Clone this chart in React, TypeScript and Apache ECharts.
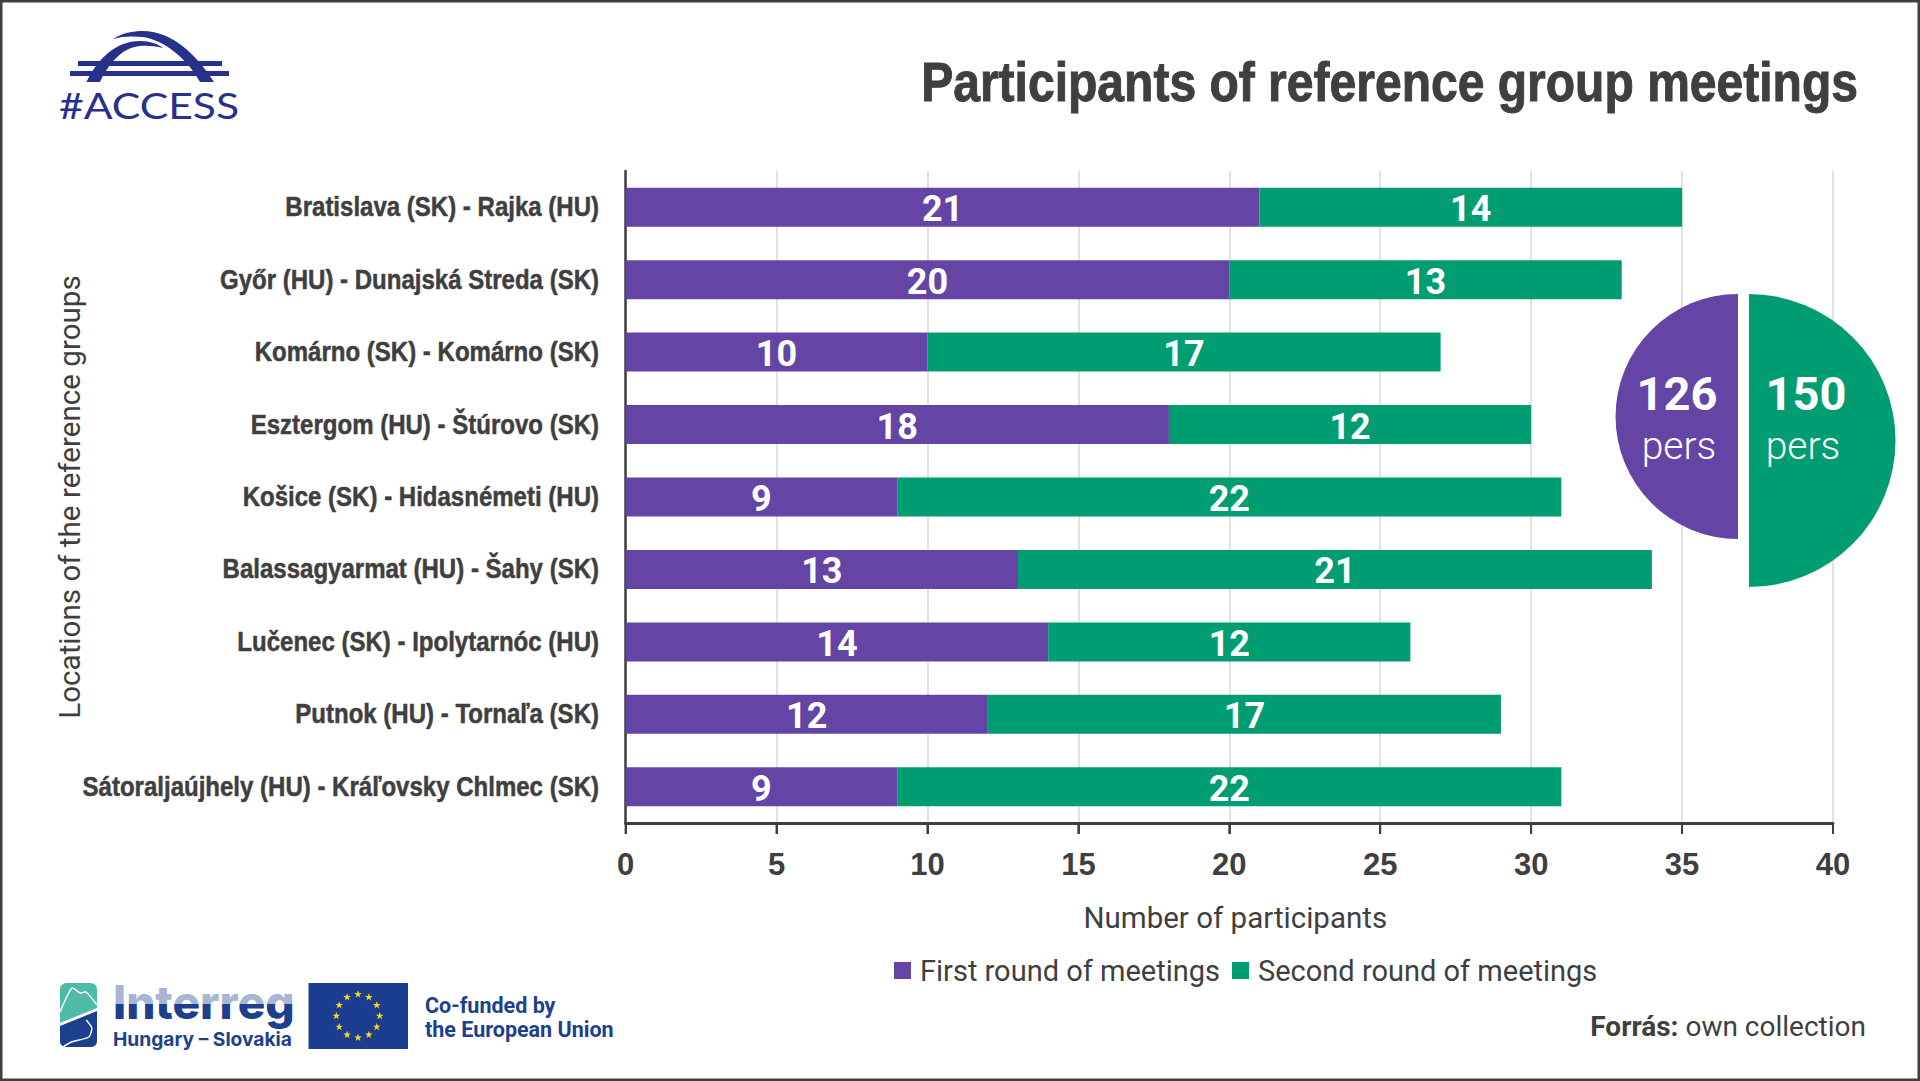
import React, { useEffect, useRef } from "react";
import * as echarts from "echarts";

const categories = [
  "Bratislava (SK) - Rajka (HU)",
  "Győr (HU) - Dunajská Streda (SK)",
  "Komárno (SK) - Komárno (SK)",
  "Esztergom (HU) - Štúrovo (SK)",
  "Košice (SK) - Hidasnémeti (HU)",
  "Balassagyarmat (HU) - Šahy (SK)",
  "Lučenec (SK) - Ipolytarnóc (HU)",
  "Putnok (HU) - Tornaľa (SK)",
  "Sátoraljaújhely (HU) - Kráľovsky Chlmec (SK)",
];
const firstRound = [21, 20, 10, 18, 9, 13, 14, 12, 9];
const secondRound = [14, 13, 17, 12, 22, 21, 12, 17, 22];
const firstTotal = 126;
const secondTotal = 150;
const xTicks = [0, 5, 10, 15, 20, 25, 30, 35, 40];

const PURPLE = "#6444A5";
const GREEN = "#009D73";
const DARK = "#3F3F3F";
const NAVY = "#27318B";
const BLUE = "#1C3F8E";
const ARIAL = '"Liberation Sans", sans-serif';
const ROBOTO = "Roboto, sans-serif";

echarts.graphic.registerShape("archA", echarts.graphic.extendPath(
  "M86.5 82C97 60 115 41 140 41C150 41 158 44 163 48C155 46 148 45.5 140 46C122 47 108 65 100 82Z" as any, {}) as any);
echarts.graphic.registerShape("archB", echarts.graphic.extendPath(
  "M113 39C122 33 133 31 143 31C170 31 195 52 214 82L200 82C188 60 165 40 143 37C132 36 122 36 113 39Z" as any, {}) as any);
echarts.graphic.registerShape("peakTop", echarts.graphic.extendPath(
  "M60 1023L60 990C60 985 63 983 67 983L90 983C95 983 97 986 97 990L97 1008Z" as any, {}) as any);
echarts.graphic.registerShape("peakBottom", echarts.graphic.extendPath(
  "M60 1026L97 1011L97 1041C97 1045 94 1047 90 1047L67 1047C63 1047 60 1045 60 1041Z" as any, {}) as any);
echarts.graphic.registerShape("star", echarts.graphic.extendPath(
  "M0 -4L1 -1.2L3.9 -1.2L1.5 0.5L2.4 3.3L0 1.6L-2.4 3.3L-1.5 0.5L-3.9 -1.2L-1 -1.2Z" as any, {}) as any);

const starAngles = [0, 30, 60, 90, 120, 150, 180, 210, 240, 270, 300, 330];

function App() {
  const ref = useRef<HTMLDivElement>(null);
  useEffect(() => {
    const chart = echarts.init(ref.current!, null, { renderer: "svg" });
    const band = (d: number[]) => ({ type: "rect", shape: { x: d[0], y: d[1], width: d[2], height: d[3] }, style: { fill: NAVY } });
    const line = (pts: number[][]) => ({ type: "polyline", shape: { points: pts, smooth: 0.2 }, style: { stroke: "#fff", lineWidth: 1.4, fill: "none" } });
    chart.setOption({
      animation: false,
      backgroundColor: "#fff",
      grid: { left: 625.6, right: 87, top: 171, bottom: 258, outerBoundsMode: "none" },
      legend: {
        left: 894, top: 956, padding: 0, itemWidth: 17, itemHeight: 17, itemGap: 12, icon: "rect",
        data: ["First round of meetings", "Second round of meetings"],
        textStyle: { fontFamily: ROBOTO, fontSize: 29, color: DARK, padding: [0, 0, 0, 4] },
      },
      xAxis: {
        type: "value", min: 0, max: 40, interval: 5,
        name: "Number of participants", nameLocation: "middle", nameGap: 80,
        nameTextStyle: { fontFamily: ROBOTO, fontSize: 29.5, color: DARK, padding: [0, 0, 0, 12] },
        axisLine: { show: true, onZero: false, lineStyle: { color: DARK, width: 3 } },
        axisTick: { show: true, length: 11, lineStyle: { color: DARK, width: 2 } },
        axisLabel: { fontFamily: ARIAL, fontWeight: "bold", fontSize: 31, color: DARK, margin: 26 },
        splitLine: { show: true, lineStyle: { color: "#D9D9D9", width: 1.5 } },
      },
      yAxis: {
        type: "category", inverse: true, data: categories,
        name: "Locations of the reference groups", nameLocation: "middle", nameGap: 541, nameRotate: 90,
        nameTextStyle: { fontFamily: ROBOTO, fontSize: 29.6, color: DARK },
        axisLine: { show: true, lineStyle: { color: DARK, width: 2.5 } },
        axisTick: { show: false },
        axisLabel: { show: false },
      },
      series: [
        {
          name: "First round of meetings", type: "bar", stack: "total", data: firstRound, barWidth: 39,
          itemStyle: { color: PURPLE },
          label: { show: true, position: "inside", color: "#fff", fontFamily: ROBOTO, fontWeight: "bold", fontSize: 36, offset: [0, 2] },
        },
        {
          name: "Second round of meetings", type: "bar", stack: "total", data: secondRound, barWidth: 39,
          itemStyle: { color: GREEN },
          label: { show: true, position: "inside", color: "#fff", fontFamily: ROBOTO, fontWeight: "bold", fontSize: 36, offset: [0, 2] },
        },
        {
          type: "custom", silent: true, data: categories.map((_, i) => i), clip: false,
          renderItem: (params: any, api: any) => {
            const i = api.value(0);
            const p = api.coord([0, i]);
            return {
              type: "text", x: p[0] - 26.6, y: p[1] - 0.5, scaleX: 0.89,
              style: { text: categories[i], fontFamily: ARIAL, fontWeight: "bold", fontSize: 27, fill: DARK, stroke: DARK, lineWidth: 0.5, align: "right", verticalAlign: "middle" },
            };
          },
          encode: { y: 0 },
        },
        {
          type: "custom", silent: true, clip: false, z: 5,
          data: xTicks.map((v) => [v, 8]),
          encode: { x: 0, y: 1 },
          renderItem: (params: any, api: any) => {
            const x = api.coord([api.value(0), 8])[0];
            const b = params.coordSys.y + params.coordSys.height;
            return { type: "rect", shape: { x: x - 1, y: b, width: 2, height: 11 }, style: { fill: DARK } };
          },
        },
        {
          type: "pie", center: [1738, 416.5], radius: [0, 122.5], startAngle: 90, endAngle: 270, clockwise: false,
          label: { show: false }, emphasis: { disabled: true }, silent: true,
          data: [{ value: firstTotal, itemStyle: { color: PURPLE } }],
        },
        {
          type: "pie", center: [1749, 440.5], radius: [0, 146.5], startAngle: 90, endAngle: -90, clockwise: true,
          label: { show: false }, emphasis: { disabled: true }, silent: true,
          data: [{ value: secondTotal, itemStyle: { color: GREEN } }],
        },
      ],
      graphic: [
        { type: "rect", z: 100, shape: { x: 1.25, y: 1.25, width: 1917.5, height: 1078.5 }, style: { fill: "none", stroke: DARK, lineWidth: 2.5 } },
        { type: "text", x: 1858, y: 82, scaleX: 0.858, style: { text: "Participants of reference group meetings", fontFamily: ARIAL, fontWeight: "bold", fontSize: 56, fill: DARK, stroke: DARK, lineWidth: 1, align: "right", verticalAlign: "middle" } },
        { type: "text", x: 1677, y: 393, z: 100, style: { text: String(firstTotal), fontFamily: ROBOTO, fontWeight: "bold", fontSize: 47, fill: "#fff", align: "center", verticalAlign: "middle" } },
        { type: "text", x: 1679, y: 446, z: 100, style: { text: "pers", fontFamily: ROBOTO, fontWeight: 300, fontSize: 39, fill: "#fff", align: "center", verticalAlign: "middle" } },
        { type: "text", x: 1806, y: 393, z: 100, style: { text: String(secondTotal), fontFamily: ROBOTO, fontWeight: "bold", fontSize: 47, fill: "#fff", align: "center", verticalAlign: "middle" } },
        { type: "text", x: 1803, y: 446, z: 100, style: { text: "pers", fontFamily: ROBOTO, fontWeight: 300, fontSize: 39, fill: "#fff", align: "center", verticalAlign: "middle" } },
        { type: "text", x: 1866, y: 1026, style: { rich: { b: { fontFamily: ROBOTO, fontWeight: "bold", fontSize: 28, fill: DARK }, n: { fontFamily: ROBOTO, fontSize: 28, fill: DARK } }, text: "{b|Forrás: }{n|own collection}", align: "right", verticalAlign: "middle" } },
        // #ACCESS logo
        band([78, 61, 144, 5]), band([70, 71, 159, 5]),
        { type: "archA", style: { fill: NAVY } },
        { type: "archB", style: { fill: NAVY } },
        { type: "text", x: 59, y: 105, scaleX: 1.185, style: { text: "#ACCESS", fontFamily: "Lato, sans-serif", fontSize: 36, fill: NAVY, verticalAlign: "middle" } },
        // Interreg logo
        { type: "peakTop", style: { fill: "#4DBBA6" } },
        { type: "peakBottom", style: { fill: BLUE } },
        line([[60, 1012], [72, 988], [80, 993], [86, 992], [97, 1005]]),
        line([[86.3, 1020], [91.8, 1028], [89, 1037], [71.5, 1042], [63, 1047]]),
        { type: "text", x: 113, y: 1002, style: { text: "Interreg", fontFamily: "Inter, sans-serif", fontWeight: 800, fontSize: 46, fill: BLUE, verticalAlign: "middle" } },
        { type: "rect", shape: { x: 110, y: 978, width: 186, height: 26 }, style: { fill: "rgba(255,255,255,0.62)" } },
        { type: "text", x: 113, y: 1039, style: { text: "Hungary – Slovakia", fontFamily: "Inter, sans-serif", fontWeight: 700, fontSize: 19.2, fill: BLUE, verticalAlign: "middle" } },
        { type: "rect", shape: { x: 308.5, y: 983, width: 99.5, height: 66 }, style: { fill: "#1A3D8F" } },
        ...starAngles.map((a) => ({ type: "star", x: 358 + 21.7 * Math.sin((a * Math.PI) / 180), y: 1016 - 21.7 * Math.cos((a * Math.PI) / 180), style: { fill: "#FFD617" } })),
        { type: "text", x: 425, y: 1005, style: { text: "Co-funded by", fontFamily: ROBOTO, fontWeight: "bold", fontSize: 21.5, fill: BLUE, verticalAlign: "middle" } },
        { type: "text", x: 425, y: 1029, style: { text: "the European Union", fontFamily: ROBOTO, fontWeight: "bold", fontSize: 21.5, fill: BLUE, verticalAlign: "middle" } },
      ],
    });
    return () => chart.dispose();
  }, []);
  return <div ref={ref} style={{ position: "fixed", left: 0, top: 0, width: 1920, height: 1081 }} />;
}

export default App;
